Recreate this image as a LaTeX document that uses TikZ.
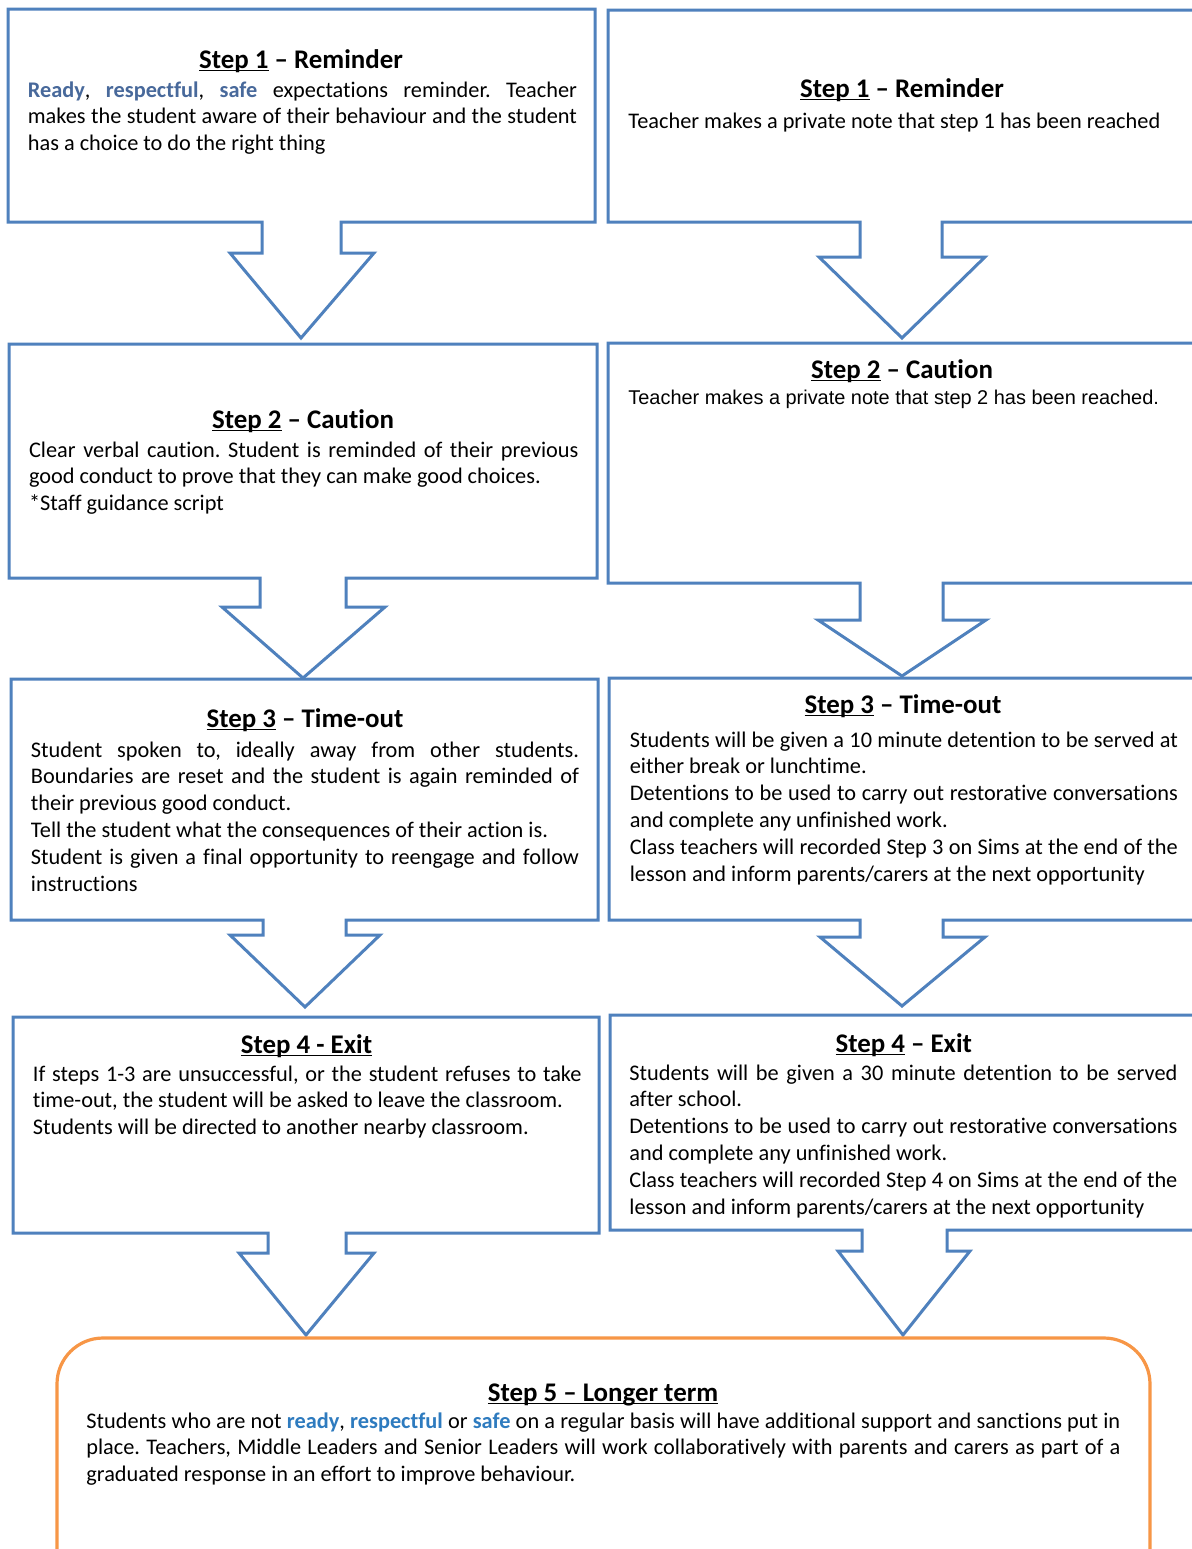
\documentclass[tikz,border=0pt]{standalone}
\usepackage{fontspec}
\setmainfont{Carlito}[Ligatures=NoCommon]
\newfontfamily\arialfont{Liberation Sans}
\definecolor{boxblue}{HTML}{4F81BD}
\definecolor{kwgray}{HTML}{48699B}
\definecolor{kwblue}{HTML}{2E7BBF}
\definecolor{boxorange}{HTML}{F79646}
\newcommand\stepul[1]{\setbox0\hbox{#1}\rlap{\rule[-1.7pt]{\wd0}{0.75pt}}\box0\relax}
\newcommand\jl[1]{\hbox to \hsize{\spaceskip=0pt\xspaceskip=0pt #1}}
\newcommand\nl[1]{\hbox{\spaceskip=0pt\xspaceskip=0pt #1}}
\newcommand\kwa[1]{{\bfseries\color{kwgray}#1}}
\newcommand\kwb[1]{{\bfseries\color{kwblue}#1}}
\frenchspacing
\begin{document}
\frenchspacing
\begin{tikzpicture}[x=0.5bp,y=-0.5bp,
  blueline/.style={draw=boxblue,line width=1.5bp,line join=miter},
  orangeline/.style={draw=boxorange,line width=1.6bp},
  titletext/.style={anchor=base,inner sep=0pt,font=\fontsize{13.5}{16}\selectfont\bfseries},
  bodytext/.style={anchor=base west,inner sep=0pt,font=\fontsize{11.2}{13.5}\selectfont\frenchspacing}]
\useasboundingbox (0,0) rectangle (1192,1549);
\fill[white] (0,0) rectangle (1192,1549);

% ---- left column callouts
\draw[blueline] (262,222) -- (8,222) -- (8,9) -- (595,9) -- (595,222) -- (341,222) -- (341,253) -- (374,253) -- (301,338) -- (230,253) -- (262,253) -- cycle;
\draw[blueline] (260,578) -- (9,578) -- (9,344) -- (597,344) -- (597,578) -- (346,578) -- (346,607) -- (385,607) -- (303,678) -- (222,607) -- (260,607) -- cycle;
\draw[blueline] (263,920) -- (11,920) -- (11,679) -- (598,679) -- (598,920) -- (346,920) -- (346,935) -- (380,935) -- (305,1007) -- (230,935) -- (263,935) -- cycle;
\draw[blueline] (268,1233) -- (13,1233) -- (13,1017) -- (599,1017) -- (599,1233) -- (346,1233) -- (346,1253) -- (374,1253) -- (306,1335) -- (239,1253) -- (268,1253) -- cycle;

% ---- right column callouts
\draw[blueline] (860,222) -- (608,222) -- (608,10) -- (1200,10) -- (1200,222) -- (942,222) -- (942,257) -- (985,257) -- (902,338) -- (819,257) -- (860,257) -- cycle;
\draw[blueline] (860,583) -- (608,583) -- (608,343) -- (1200,343) -- (1200,583) -- (943,583) -- (943,620) -- (986,620) -- (902,676) -- (818,620) -- (860,620) -- cycle;
\draw[blueline] (860,920) -- (609,920) -- (609,678) -- (1200,678) -- (1200,920) -- (943,920) -- (943,937) -- (985,937) -- (902,1006) -- (820,937) -- (860,937) -- cycle;
\draw[blueline] (862,1230) -- (610,1230) -- (610,1015) -- (1200,1015) -- (1200,1230) -- (947,1230) -- (947,1251) -- (970,1251) -- (903,1335) -- (838,1251) -- (862,1251) -- cycle;

% ---- step 5 box
\draw[orangeline,rounded corners=23bp] (57,1620) -- (57,1338) -- (1150,1338) -- (1150,1620);

% ---- left texts
\node[titletext] (l1t) at (301,68) {\stepul{Step 1} – Reminder};
\node[bodytext,text width=274.5bp] (l1b) at (27.5,97) {%
\jl{\kwa{Ready}, \kwa{respectful}, \kwa{safe} expectations reminder. Teacher}
\jl{makes the student aware of their behaviour and the student}
\nl{has a choice to do the right thing}};

\node[titletext] (l2t) at (303,428) {\stepul{Step 2} – Caution};
\node[bodytext,text width=274.7bp] (l2b) at (28.7,457) {%
\jl{Clear verbal caution. Student is reminded of their previous}
\nl{good conduct to prove that they can make good choices.}
\nl{*Staff guidance script}};

\node[titletext] (l3t) at (305,727) {\stepul{Step 3} – Time-out};
\node[bodytext,text width=274bp] (l3b) at (30.6,757) {%
\jl{Student spoken to, ideally away from other students.}
\jl{Boundaries are reset and the student is again reminded of}
\nl{their previous good conduct.}
\nl{Tell the student what the consequences of their action is.}
\jl{Student is given a final opportunity to reengage and follow}
\nl{instructions}};

\node[titletext] (l4t) at (306.5,1053) {\stepul{Step 4 - Exit}};
\node[bodytext,text width=274.3bp] (l4b) at (32.5,1081) {%
\jl{If steps 1-3 are unsuccessful, or the student refuses to take}
\nl{time-out, the student will be asked to leave the classroom.}
\nl{Students will be directed to another nearby classroom.}};

% ---- right texts
\node[titletext] (r1t) at (902,97) {\stepul{Step 1} – Reminder};
\node[bodytext] (r1b) at (628,128) {Teacher makes a private note that step 1 has been reached};

\node[titletext] (r2t) at (902,378) {\stepul{Step 2} – Caution};
\node[bodytext,font=\arialfont\fontsize{10}{12}\selectfont] (r2b) at (628,404) {Teacher makes a private note that step 2 has been reached.};

\node[titletext] (r3t) at (903,713) {\stepul{Step 3} – Time-out};
\node[bodytext,text width=274bp] (r3b) at (629.4,747) {%
\jl{Students will be given a 10 minute detention to be served at}
\nl{either break or lunchtime.}
\jl{Detentions to be used to carry out restorative conversations}
\nl{and complete any unfinished work.}
\jl{Class teachers will recorded Step 3 on Sims at the end of the}
\nl{lesson and inform parents/carers at the next opportunity}};

\node[titletext] (r4t) at (903.8,1052) {\stepul{Step 4} – Exit};
\node[bodytext,text width=274bp] (r4b) at (629,1080) {%
\jl{Students will be given a 30 minute detention to be served}
\nl{after school.}
\jl{Detentions to be used to carry out restorative conversations}
\nl{and complete any unfinished work.}
\jl{Class teachers will recorded Step 4 on Sims at the end of the}
\nl{lesson and inform parents/carers at the next opportunity}};

% ---- step 5 texts
\node[titletext] (s5t) at (603,1401) {\stepul{Step 5 – Longer term}};
\node[bodytext,text width=517bp] (s5b) at (86,1428) {%
\jl{Students who are not \kwb{ready}, \kwb{respectful} or \kwb{safe} on a regular basis will have additional support and sanctions put in}
\jl{place. Teachers, Middle Leaders and Senior Leaders will work collaboratively with parents and carers as part of a}
\nl{graduated response in an effort to improve behaviour.}};
\end{tikzpicture}
\end{document}
